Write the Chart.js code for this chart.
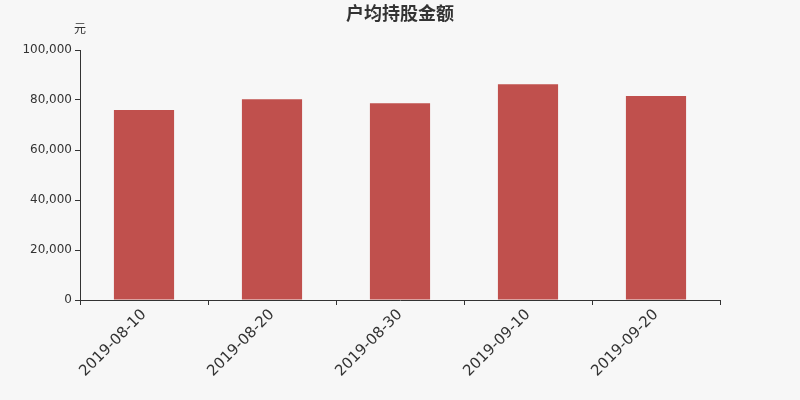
<!DOCTYPE html>
<html>
<head>
<meta charset="utf-8">
<script src="https://cdn.jsdelivr.net/npm/chart.js@4"></script>
<style>
  html, body { margin: 0; padding: 0; background: #f7f7f7; }
  #wrap { width: 800px; height: 400px; }
</style>
</head>
<body>
<div id="wrap"><canvas id="chart"></canvas></div>
<script>
const dates = ["2019-08-10", "2019-08-20", "2019-08-30", "2019-09-10", "2019-09-20"];
const amounts = [76000, 80300, 78700, 86300, 81600];
const chartTitle = "户均持股金额";
const unitLabel = "元";

// background, centred title and the unit label above the y axis
const decorations = {
  id: "decorations",
  beforeDraw(chart) {
    const ctx = chart.ctx;
    ctx.save();
    ctx.fillStyle = "#f7f7f7";
    ctx.fillRect(0, 0, chart.width, chart.height);
    ctx.restore();
  },
  afterDraw(chart) {
    const ctx = chart.ctx;
    ctx.save();
    ctx.fillStyle = "#333";
    ctx.textAlign = "center";
    ctx.textBaseline = "middle";
    ctx.font = "bold 18px 'Noto Sans CJK SC', sans-serif";
    ctx.fillText(chartTitle, chart.width / 2, 13);
    ctx.font = "12px 'Noto Sans CJK SC', sans-serif";
    ctx.fillText(unitLabel, chart.chartArea.left, chart.chartArea.top - 22);
    ctx.restore();
  },
};

new Chart(document.getElementById("chart"), {
  type: "bar",
  data: {
    labels: dates,
    datasets: [
      {
        data: amounts,
        backgroundColor: "#c0504d",
        categoryPercentage: 1,
        barPercentage: 0.47,
      },
    ],
  },
  options: {
    responsive: true,
    maintainAspectRatio: false,
    animation: false,
    layout: {
      padding: { left: 0, right: 80, top: 50, bottom: 0 },
    },
    plugins: {
      legend: { display: false },
      tooltip: { enabled: false },
      title: { display: false },
    },
    scales: {
      x: {
        grid: {
          display: true,
          drawOnChartArea: false,
          drawTicks: true,
          tickLength: 5,
          offset: true,
          color: "#333",
        },
        border: { color: "#333" },
        ticks: {
          color: "#333",
          minRotation: 45,
          maxRotation: 45,
          padding: 1,
          font: { size: 15, family: "'DejaVu Sans', sans-serif" },
        },
        afterFit(scale) {
          scale.height = 100;
        },
      },
      y: {
        min: 0,
        max: 100000,
        grid: {
          display: true,
          drawOnChartArea: false,
          drawTicks: true,
          tickLength: 5,
          color: "#333",
        },
        border: { color: "#333" },
        ticks: {
          stepSize: 20000,
          color: "#333",
          padding: 3,
          font: { size: 12, family: "'DejaVu Sans', sans-serif" },
          callback: (v) => v.toLocaleString("en-US"),
        },
        afterFit(scale) {
          scale.width = 80;
        },
      },
    },
  },
  plugins: [decorations],
});
</script>
</body>
</html>
